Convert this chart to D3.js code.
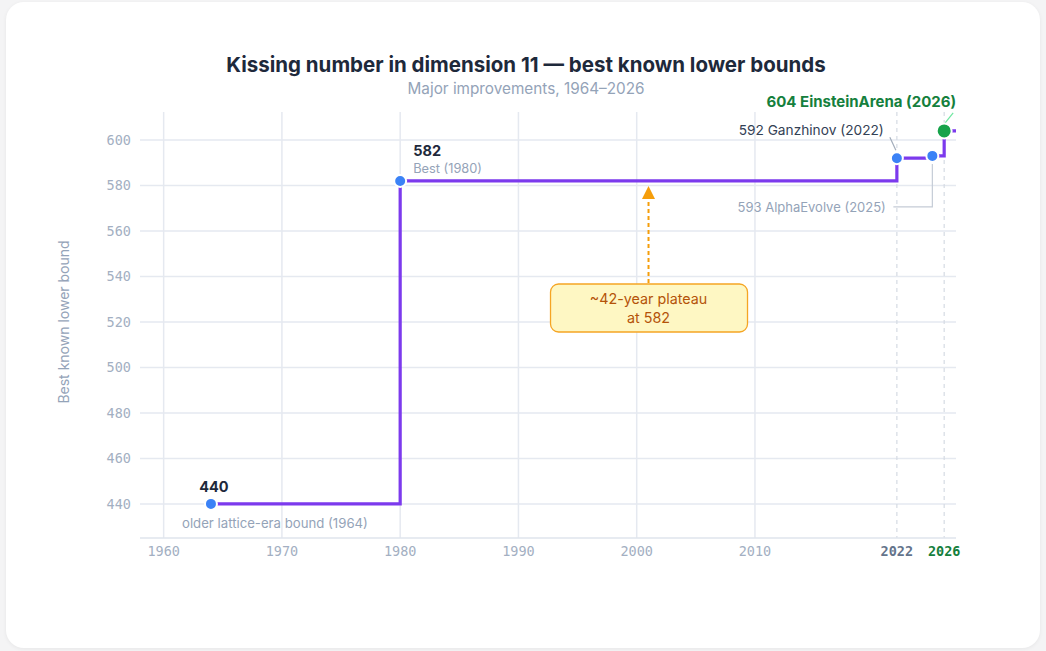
<!DOCTYPE html>
<html>
<head>
<meta charset="utf-8">
<script src="https://cdn.jsdelivr.net/npm/d3@7"></script>
<style>
  html, body { margin: 0; padding: 0; background: #f4f4f5; }
  body { width: 1046px; height: 651px; overflow: hidden; }
  .card {
    position: absolute; left: 6px; top: 2px; width: 1034px; height: 646px;
    background: #fff; border-radius: 18px;
    box-shadow: 0 1px 4px rgba(0,0,0,0.06);
  }
  svg { position: absolute; left: 0; top: 0; font-family: Inter, "Noto Sans", sans-serif; }
  .tick-label { font-family: "DejaVu Sans Mono", monospace; font-size: 13.5px; fill: #a3afc2; }
</style>
</head>
<body>
<div class="card"></div>
<div id="chart"></div>
<script>
  // data
  const years = [1964, 1980, 2022, 2025, 2026]
  const bounds = [440, 582, 592, 593, 604]
  const yTicks = [440, 460, 480, 500, 520, 540, 560, 580, 600]
  const xTicks = [1960, 1970, 1980, 1990, 2000, 2010]
  const highlightYears = [2022, 2026]

  const width = 1046
  const height = 651
  const margin = { top: 112, right: 90, bottom: 113, left: 140 }

  const svg = d3.select("#chart").append("svg")
    .attr("width", width)
    .attr("height", height)

  const x = d3.scaleLinear().domain([1958, 2027]).range([margin.left, width - margin.right])
  const y = d3.scaleLinear().domain([425, 612.3]).range([height - margin.bottom, margin.top])

  // title
  svg.append("text")
    .attr("x", 526).attr("y", 72)
    .attr("text-anchor", "middle")
    .attr("font-size", 20.5).attr("font-weight", 700).attr("fill", "#1e293b")
    .text("Kissing number in dimension 11 — best known lower bounds")
  svg.append("text")
    .attr("x", 526).attr("y", 94)
    .attr("text-anchor", "middle")
    .attr("font-size", 15.3).attr("fill", "#94a3b8")
    .text("Major improvements, 1964–2026")

  // grid
  const grid = svg.append("g")
  grid.selectAll(".hg").data(yTicks).join("line")
    .attr("x1", x.range()[0]).attr("x2", x.range()[1])
    .attr("y1", d => y(d)).attr("y2", d => y(d))
    .attr("stroke", "#e5e9f0").attr("stroke-width", 1.5)
  grid.selectAll(".vg").data(xTicks).join("line")
    .attr("x1", d => x(d)).attr("x2", d => x(d))
    .attr("y1", y.range()[1]).attr("y2", y.range()[0])
    .attr("stroke", "#e5e9f0").attr("stroke-width", 1.5)
  grid.selectAll(".dg").data(highlightYears).join("line")
    .attr("x1", d => x(d)).attr("x2", d => x(d))
    .attr("y1", y.range()[1]).attr("y2", y.range()[0])
    .attr("stroke", "#d5dbe3").attr("stroke-width", 1.2)
    .attr("stroke-dasharray", "4 4")

  // bottom axis line
  svg.append("line")
    .attr("x1", x.range()[0]).attr("x2", x.range()[1])
    .attr("y1", y.range()[0]).attr("y2", y.range()[0])
    .attr("stroke", "#dfe4ec").attr("stroke-width", 1.5)

  // tick labels
  svg.selectAll(".yl").data(yTicks).join("text")
    .attr("class", "tick-label")
    .attr("x", 131).attr("y", d => y(d))
    .attr("dy", "0.35em").attr("text-anchor", "end")
    .text(d => d)
  svg.selectAll(".xl").data(xTicks).join("text")
    .attr("class", "tick-label")
    .attr("x", d => x(d)).attr("y", y.range()[0] + 18)
    .attr("text-anchor", "middle")
    .text(d => d)
  svg.selectAll(".xh").data(highlightYears).join("text")
    .attr("class", "tick-label")
    .attr("x", d => x(d)).attr("y", y.range()[0] + 18)
    .attr("text-anchor", "middle")
    .attr("font-weight", 700)
    .style("fill", d => d === 2026 ? "#15803d" : "#64748b")
    .text(d => d)

  svg.append("text")
    .attr("transform", `translate(69, 322) rotate(-90)`)
    .attr("text-anchor", "middle")
    .attr("font-size", 14).attr("fill", "#94a3b8")
    .text("Best known lower bound")

  // step line
  const pts = years.map((yr, i) => ({ year: yr, value: bounds[i] }))
  const linePts = pts.concat([{ year: 2027, value: bounds[bounds.length - 1] }])
  const line = d3.line().x(d => x(d.year)).y(d => y(d.value)).curve(d3.curveStepAfter)
  svg.append("path")
    .attr("d", line(linePts))
    .attr("fill", "none")
    .attr("stroke", "#7c3aed").attr("stroke-width", 3.2)

  // plateau annotation
  const plateauYear = 2001
  const ax = x(plateauYear)
  svg.append("line")
    .attr("x1", ax).attr("x2", ax)
    .attr("y1", 283).attr("y2", y(582) + 16)
    .attr("stroke", "#f59e0b").attr("stroke-width", 2)
    .attr("stroke-dasharray", "4 3")
  svg.append("path")
    .attr("d", `M${ax},${y(582) + 5} L${ax - 6.5},${y(582) + 18} L${ax + 6.5},${y(582) + 18} Z`)
    .attr("fill", "#f59e0b")
  svg.append("rect")
    .attr("x", ax - 98).attr("y", 284).attr("width", 197).attr("height", 48)
    .attr("rx", 8)
    .attr("fill", "#fef7c3").attr("stroke", "#f5a524").attr("stroke-width", 1.3)
  svg.append("text")
    .attr("x", ax).attr("y", 304)
    .attr("text-anchor", "middle").attr("font-size", 14.3).attr("fill", "#b45309")
    .text("~42-year plateau")
  svg.append("text")
    .attr("x", ax).attr("y", 323)
    .attr("text-anchor", "middle").attr("font-size", 14.3).attr("fill", "#b45309")
    .text("at 582")

  // leader lines
  const p2022 = pts[2], p2025 = pts[3], p2026 = pts[4]
  svg.append("line")
    .attr("x1", x(p2022.year) - 7).attr("y1", y(p2022.value) - 21)
    .attr("x2", x(p2022.year) - 1).attr("y2", y(p2022.value) - 8)
    .attr("stroke", "#a3adbb").attr("stroke-width", 1.2)
  svg.append("path")
    .attr("d", `M${x(p2025.year) - 39},${y(582) + 26} H${x(p2025.year)} V${y(p2025.value) + 8}`)
    .attr("fill", "none").attr("stroke", "#c5ccd6").attr("stroke-width", 1.2)
  svg.append("line")
    .attr("x1", x(p2026.year) + 9).attr("y1", y(p2026.value) - 18)
    .attr("x2", x(p2026.year) + 1).attr("y2", y(p2026.value) - 8)
    .attr("stroke", "#6ee7a0").attr("stroke-width", 1.2)

  // dots
  svg.selectAll(".dot").data(pts).join("circle")
    .attr("cx", d => x(d.year)).attr("cy", d => y(d.value))
    .attr("r", d => d.year === 2026 ? 7.5 : 6)
    .attr("fill", d => d.year === 2026 ? "#16a34a" : "#3b82f6")
    .attr("stroke", "#fff").attr("stroke-width", 2)

  // point labels
  const p1964 = pts[0], p1980 = pts[1]
  svg.append("text")
    .attr("x", x(p1964.year) + 3).attr("y", y(p1964.value) - 12)
    .attr("text-anchor", "middle").attr("font-size", 14.5).attr("font-weight", 700).attr("fill", "#1e293b")
    .text(p1964.value)
  svg.append("text")
    .attr("x", x(p1964.year) + 64).attr("y", y(p1964.value) + 24)
    .attr("text-anchor", "middle").attr("font-size", 13.2).attr("fill", "#94a3b8")
    .text("older lattice-era bound (1964)")
  svg.append("text")
    .attr("x", x(p1980.year) + 13).attr("y", y(p1980.value) - 25)
    .attr("font-size", 14.5).attr("font-weight", 700).attr("fill", "#1e293b")
    .text(p1980.value)
  svg.append("text")
    .attr("x", x(p1980.year) + 13).attr("y", y(p1980.value) - 8)
    .attr("font-size", 12.8).attr("fill", "#94a3b8")
    .text("Best (1980)")
  svg.append("text")
    .attr("x", x(p2022.year) - 13).attr("y", y(p2022.value) - 23)
    .attr("text-anchor", "end").attr("font-size", 13.7).attr("fill", "#334155")
    .text("592 Ganzhinov (2022)")
  svg.append("text")
    .attr("x", x(p2022.year) - 11).attr("y", y(582) + 31)
    .attr("text-anchor", "end").attr("font-size", 13).attr("fill", "#94a3b8")
    .text("593 AlphaEvolve (2025)")
  svg.append("text")
    .attr("x", x(p2026.year) + 12).attr("y", y(p2026.value) - 24)
    .attr("text-anchor", "end").attr("font-size", 15).attr("font-weight", 700).attr("fill", "#15803d")
    .text("604 EinsteinArena (2026)")
</script>
</body>
</html>
